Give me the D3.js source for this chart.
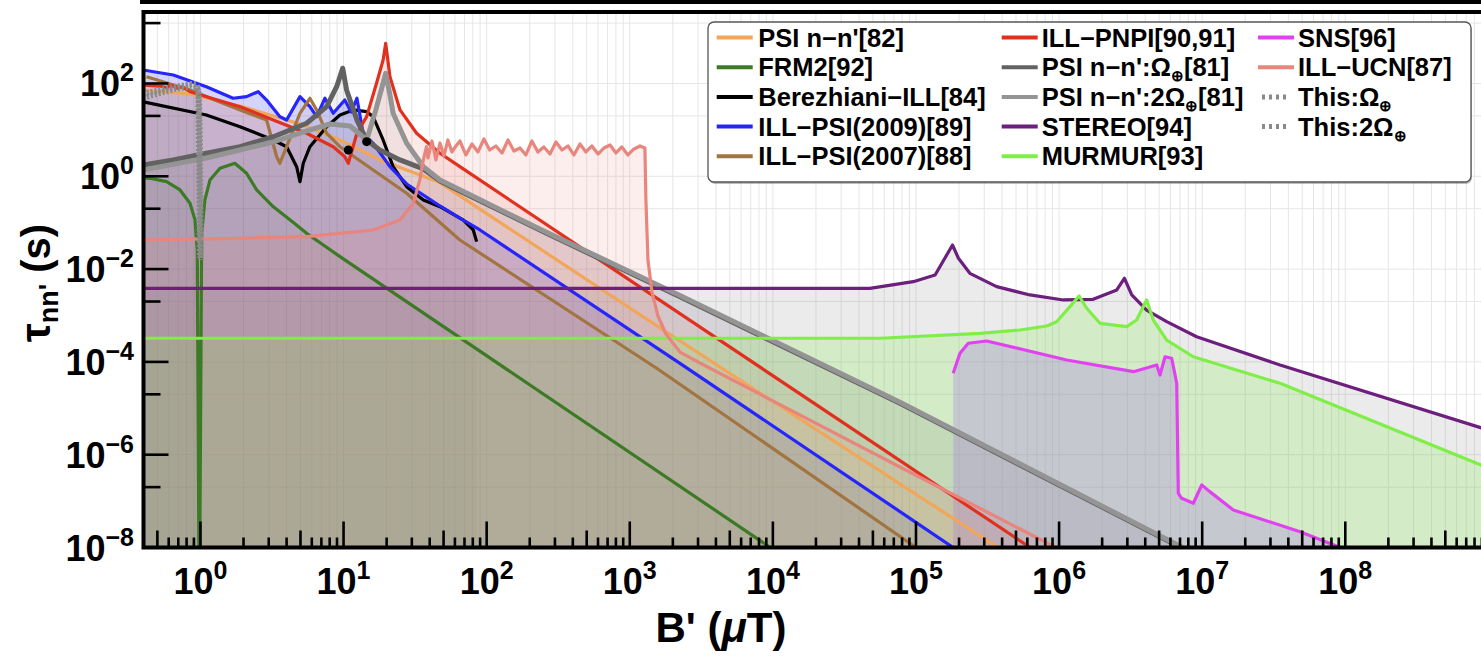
<!DOCTYPE html>
<html><head><meta charset="utf-8">
<script src="https://cdn.jsdelivr.net/npm/d3@7"></script>
<style>
html,body{margin:0;padding:0;background:#fff;}
svg{display:block;}
text{font-family:"Liberation Sans",Arial,Helvetica,sans-serif;font-weight:bold;fill:#000;}
</style></head><body>
<svg id="chart" width="1481" height="657"></svg>
<script>
// Each series: [B' (μT), τ_nn' (s)] pairs.
const psiNN82 = [[0.397,72.4],[0.845,59.4],[1.89,32.7],[4.96,13.4],[9.44,6.06],[17.9,2.25],[45.9,0.765],[2014,3.49e-4],[3.74e5,1e-8]];
const frm2 = [[0.40,0.92],[0.444,0.905],[0.58,0.765],[0.72,0.507],[0.845,0.262],[0.916,0.115],[0.95,0.026],[0.975,1e-8],[0.99,1e-8],[1.02,0.059],[1.074,0.31],[1.165,0.83],[1.37,1.49],[1.74,1.91],[2.10,1.16],[2.47,0.51],[3.23,0.22],[4.22,0.115],[5.52,0.059],[7.22,0.033],[9.44,0.0186],[9.6e3,1e-8]];
const berezhianiILL = [[0.40,40],[1.10,20.9],[1.89,11.7],[3.23,6.06],[4.0,4.34],[4.7,1.61],[4.96,0.765],[5.23,1.91],[5.82,4.34],[7.62,11.7],[9.44,20.9],[11.7,26.9],[14.5,24.7],[16.1,19.3],[18.9,6.06],[22.2,1.61],[27.6,0.597],[36.1,0.308],[47.2,0.221],[68.7,0.114],[80.6,0.0696],[85.1,0.039]];
const illPsi2009 = [[0.398,195],[0.646,152],[1.10,85],[1.69,48],[2.10,52],[2.53,66.6],[2.90,44],[3.59,19.3],[4.0,16.3],[4.96,52],[5.82,31.6],[6.49,19.3],[7.41,48],[8.47,22.8],[10.2,44],[11.3,24.2],[12.4,48],[13.7,8.45],[16.1,5.14],[21.1,1.61],[27.6,0.683],[36.1,0.395],[47.2,0.229],[65.1,0.126],[89.8,0.0696],[2244,9.3e-5],[1.82e5,1e-8]];
const illPsi2007 = [[0.42,140],[0.845,72.4],[1.89,26.9],[2.90,16.3],[3.41,2.64],[3.59,1.91],[4.0,4.34],[4.96,22.8],[5.82,48],[6.49,26.9],[7.62,8.45],[9.44,4.34],[16.1,1.37],[27.6,0.43],[65,0.0424],[1542,7.3e-5],[1.0e5,1e-8]];
const illPnpi = [[0.40,92],[0.52,88],[0.58,82],[0.63,90],[0.69,79],[0.75,85],[0.845,66.6],[1.89,31.6],[3.23,16.3],[5.52,8.45],[8.47,4.34],[10.2,2.64],[10.8,1.91],[12.4,8.45],[14.5,19.3],[17.0,101],[18.9,321],[19.7,735],[21.1,140],[24.8,26.9],[32.4,8.45],[47.2,3.13],[65,1.61],[6.27e5,1e-8]];
const psiOmega = [[0.397,1.75],[0.646,2.25],[1.10,3.13],[1.89,4.34],[3.23,7.13],[5.52,13.9],[7.62,31.6],[8.95,85.3],[9.86,213],[10.5,72.4],[12.4,16.3],[14.5,6.06],[17.9,3.69],[24.8,2.25],[36.1,1.44],[47.2,0.79],[65,0.48],[262,0.059],[2244,2.54e-3],[7.73e4,1.28e-5],[7.1e6,1e-8]];
const psi2Omega = [[0.397,1.37],[1.10,2.48],[3.23,5.49],[5.52,9.47],[8.04,13.4],[11.1,12.1],[14.5,6.06],[16.8,26.9],[18.5,80],[19.7,166],[21.1,56.5],[22.2,22.8],[27.6,5.14],[36.1,1.61],[47.2,0.83],[65,0.51],[262,0.062],[2244,2.7e-3],[7.73e4,1.35e-5],[7.3e6,1e-8]];
const stereo = [[0.4,3.85e-3],[4.76e4,3.85e-3],[9.57e4,5.35e-3],[1.36e5,7.46e-3],[1.80e5,0.033],[1.98e5,0.0171],[2.38e5,8.11e-3],[3.66e5,4.18e-3],[6.26e5,2.77e-3],[1.07e6,2.16e-3],[1.73e6,2.23e-3],[2.53e6,3.55e-3],[2.86e6,6.34e-3],[3.22e6,2.77e-3],[4.09e6,1.31e-3],[5.65e6,7.35e-4],[9.15e6,3.49e-4],[3.5e7,8.57e-5],[1e9,3.4e-6]];
const murmur = [[0.4,3.23e-4],[5.6e4,3.23e-4],[2.8e5,4.13e-4],[5.33e5,4.86e-4],[8.19e5,5.94e-4],[9.62e5,7.35e-4],[1.19e6,1.55e-3],[1.38e6,2.63e-3],[1.56e6,1.43e-3],[1.93e6,6.79e-4],[2.97e6,5.74e-4],[3.48e6,8.0e-4],[4.09e6,2.16e-3],[4.55e6,8.0e-4],[5.65e6,2.96e-4],[8.67e6,1.29e-4],[3.5e7,3.46e-5],[1e9,5.16e-7]];
const sns = [[1.82e5,5.68e-5],[2.03e5,1.53e-4],[2.32e5,2.52e-4],[3.12e5,2.82e-4],[1.13e6,1.10e-4],[3.31e6,6.15e-5],[4.81e6,8.57e-5],[5.07e6,5.22e-5],[5.5e6,1.29e-4],[6.12e6,1.20e-4],[6.64e6,3.46e-5],[6.81e6,1.47e-7],[7.19e6,1.15e-7],[8.67e6,8.97e-8],[9.93e6,2.22e-7],[1.13e7,1.6e-7],[1.65e7,6.43e-8],[4.83e7,2.19e-8],[9.2e7,1e-8]];
const illUcn = [[0.397,0.0424],[1.89,0.0461],[5.52,0.0499],[16.1,0.0696],[24.8,0.114],[30.7,0.262],[34.1,0.83],[36.1,2.25],[38,4.34],
  [38.9,2.48],[41.5,5.76],[44.2,2.25],[47.2,5.22],[50.3,2.74],[53.6,6.06],[57.2,3.34],[61.0,4.50],[65.0,5.76],[71.6,2.88],[78.9,4.97],[86.9,3.34],[95.7,6.37],[105,3.69],[116,4.50],[128,3.18],[141,6.06],[155,3.51],[171,4.07],[188,2.88],[207,5.76],[228,3.34],[251,4.28],[277,3.02],[305,5.48],[336,3.69],[370,4.50],[407,2.88],[449,4.97],[494,3.34],[544,4.50],[600,3.02],[661,4.07],[728,4.73],[801,3.18],[881,4.28],[971,2.88],[1070,3.88],[1178,4.50],[1276,4.07],
  [1297,0.308],[1340,0.0157],[1429,3.2e-3],[1574,9.75e-4],[1790,3.99e-4],[2244,1.63e-4],[3095,9.46e-5],[7.73e4,5.43e-7],[9.5e5,1e-8]];
const thisOmega = [[0.397,48.7],[0.52,62.4],[0.66,76.1],[0.845,86.1],[0.945,84.1],[0.976,56.5],[0.992,6.06],[1.0,0.308],[1.008,0.0157]];
const this2Omega = [[0.397,59.4],[0.61,80],[0.87,97.5],[0.945,97.5],[0.968,56.5],[0.984,0.308],[0.989,0.0173]];
const markedPoints = [[10.8,3.69],[14.5,5.57]];

const xTickExps = [0,1,2,3,4,5,6,7,8];
const yTickExps = [-8,-6,-4,-2,0,2];
const yMinorTicks = [2e-7,2e-5,2e-3,0.2,20,2000];

const series = [
  {name:"PSI n−n'[82]", data:psiNN82, color:"#F2A65A", w:3.2, fa:0.06},
  {name:"FRM2[92]", data:frm2, color:"#3C7A26", w:3.2, fa:0.07},
  {name:"Berezhiani−ILL[84]", data:berezhianiILL, color:"#000000", w:3.2, fa:0.05},
  {name:"ILL−PSI(2009)[89]", data:illPsi2009, color:"#2626FA", w:3.2, fa:0.2},
  {name:"ILL−PSI(2007)[88]", data:illPsi2007, color:"#A27440", w:3.2, fa:0.06},
  {name:"ILL−PNPI[90,91]", data:illPnpi, color:"#E0311F", w:3.2, fa:0.10},
  {name:"PSI n−n':Ω", sub:"⊕", tail:"[81]", data:psiOmega, color:"#626262", w:5, fill:"#7a6f86", fa:0.11},
  {name:"PSI n−n':2Ω", sub:"⊕", tail:"[81]", data:psi2Omega, color:"#949494", w:5, fill:"#9a90a6", fa:0.11},
  {name:"STEREO[94]", data:stereo, color:"#6C1F7C", w:3.2, fill:"#8a8a8a", fa:0.17},
  {name:"MURMUR[93]", data:murmur, color:"#80EE48", w:3.2, fa:0.22},
  {name:"SNS[96]", data:sns, color:"#E142F0", w:3.2, fill:"#a66ee6", fa:0.28},
  {name:"ILL−UCN[87]", data:illUcn, color:"#E8857D", w:3.2, fa:0.14},
  {name:"This:Ω", sub:"⊕", tail:"", data:thisOmega, color:"#8A8A8A", w:6, dash:"2,2", fa:0.07},
  {name:"This:2Ω", sub:"⊕", tail:"", data:this2Omega, color:"#8A8A8A", w:6, dash:"2,2", fa:0.07}
];

const svg = d3.select("#chart");
const L = 143.5, T = 12, B = 547.5, R = 1488.4;
const x = d3.scaleLog().domain([0.4, 1e9]).range([L, R]);
const y = d3.scaleLog().domain([1e-8, 3470]).range([B, T]);
const yMin = 1e-8;

svg.append("defs").append("clipPath").attr("id","plotClip")
  .append("rect").attr("x",L).attr("y",T).attr("width",R-L).attr("height",B-T);

// top rule above the frame
svg.append("rect").attr("x",140).attr("y",0).attr("width",1341).attr("height",4).attr("fill","#000");

// grid
const xMinor = [];
for (let e = -1; e <= 9; e++) for (let k = 1; k <= 9; k++) {
  const v = k * Math.pow(10, e);
  if (v >= 0.4 && v <= 1e9) xMinor.push({v, k});
}
const grid = svg.append("g").attr("clip-path","url(#plotClip)");
grid.selectAll("line.vx").data(xMinor).enter().append("line")
  .attr("x1",d=>x(d.v)).attr("x2",d=>x(d.v)).attr("y1",T).attr("y2",B)
  .attr("stroke","#e6e6e6").attr("stroke-width",1);
const yGrid = yTickExps.map(e=>Math.pow(10,e)).concat(yMinorTicks);
grid.selectAll("line.hy").data(yGrid).enter().append("line")
  .attr("x1",L).attr("x2",R).attr("y1",d=>y(d)).attr("y2",d=>y(d))
  .attr("stroke","#e6e6e6").attr("stroke-width",1);

// filled areas under each curve, then the curves
const plot = svg.append("g").attr("clip-path","url(#plotClip)");
const area = d3.area().x(d=>x(d[0])).y0(B).y1(d=>y(Math.max(d[1], yMin)));
const line = d3.line().x(d=>x(d[0])).y(d=>y(Math.max(d[1], yMin*0.5)));
series.forEach(s => {
  plot.append("path").attr("d", area(s.data)).attr("fill", s.fill || s.color).attr("fill-opacity", s.fa);
});
series.forEach(s => {
  plot.append("path").attr("d", line(s.data)).attr("fill","none")
    .attr("stroke", s.color).attr("stroke-width", s.w)
    .attr("stroke-linejoin","round").attr("stroke-dasharray", s.dash || null);
});
plot.selectAll("circle.mark").data(markedPoints).enter().append("circle")
  .attr("cx",d=>x(d[0])).attr("cy",d=>y(d[1])).attr("r",4.5).attr("fill","#000");

// ticks
const ax = svg.append("g");
ax.selectAll("line.xt").data(xMinor.filter(d=>d.v>0.4)).enter().append("line")
  .attr("x1",d=>x(d.v)).attr("x2",d=>x(d.v)).attr("y1",B)
  .attr("y2",d=>B-(d.k===1?26:(d.k===5?17:10)))
  .attr("stroke","#000").attr("stroke-width",2.6);
ax.selectAll("line.yt").data(yTickExps.map(e=>({v:Math.pow(10,e),len:25})).concat(yMinorTicks.map(v=>({v,len:17})))).enter().append("line")
  .attr("x1",L).attr("x2",d=>L+d.len).attr("y1",d=>y(d.v)).attr("y2",d=>y(d.v))
  .attr("stroke","#000").attr("stroke-width",2.6);

// frame
svg.append("rect").attr("x",L).attr("y",T).attr("width",R-L).attr("height",B-T)
  .attr("fill","none").attr("stroke","#000").attr("stroke-width",4);

// tick labels
function pow10(sel, e){
  sel.append("tspan").text("10");
  sel.append("tspan").attr("dy",-15).attr("font-size",25).text(e<0 ? "−"+(-e) : String(e));
}
xTickExps.forEach(e=>{
  const t = svg.append("text").attr("x", x(Math.pow(10,e))).attr("y", 594)
    .attr("text-anchor","middle").attr("font-size",36);
  pow10(t, e);
});
yTickExps.forEach(e=>{
  const t = svg.append("text").attr("x", 134).attr("y", y(Math.pow(10,e))+13)
    .attr("text-anchor","end").attr("font-size",36);
  pow10(t, e);
});

// axis titles
const xt = svg.append("text").attr("x",721).attr("y",642).attr("text-anchor","middle").attr("font-size",42);
xt.append("tspan").text("B' (");
xt.append("tspan").attr("font-style","italic").text("μ");
xt.append("tspan").text("T)");
const yt = svg.append("text").attr("transform","translate(50,283) rotate(-90)").attr("text-anchor","middle").attr("font-size",40);
yt.append("tspan").attr("font-size",42).text("τ");
yt.append("tspan").attr("font-size",27).attr("dy",8).text("nn'");
yt.append("tspan").attr("dy",-8).text(" (s)");

// legend
const lg = svg.append("g");
lg.append("rect").attr("x",709).attr("y",24).attr("width",763).attr("height",160).attr("rx",6)
  .attr("fill","#000").attr("fill-opacity",0.25);
lg.append("rect").attr("x",708).attr("y",22).attr("width",763).attr("height",160).attr("rx",6)
  .attr("fill","#fff").attr("stroke","#555").attr("stroke-width",1.3);
const cols = [{lx:716.7,len:36,tx:758.3},{lx:1001.7,len:36,tx:1041.7},{lx:1258,len:36,tx:1298}];
const rows = [37.5,67.2,96.9,126.6,156.3];
series.forEach((s,i)=>{
  const c = cols[Math.floor(i/5)], r = rows[i%5];
  if (s.dash) {
    lg.append("line").attr("x1",c.lx+4).attr("x2",c.lx+32).attr("y1",r).attr("y2",r)
      .attr("stroke",s.color).attr("stroke-width",5).attr("stroke-dasharray","3,4");
  } else {
    lg.append("line").attr("x1",c.lx).attr("x2",c.lx+c.len).attr("y1",r).attr("y2",r)
      .attr("stroke",s.color).attr("stroke-width",4);
  }
  const t = lg.append("text").attr("x",c.tx).attr("y",r+9).attr("font-size",25.5);
  t.append("tspan").text(s.name);
  if (s.sub) {
    t.append("tspan").attr("font-size",15).attr("dy",5).text(s.sub);
    if (s.tail) t.append("tspan").attr("dy",-5).text(s.tail);
  }
});
</script>
</body></html>
